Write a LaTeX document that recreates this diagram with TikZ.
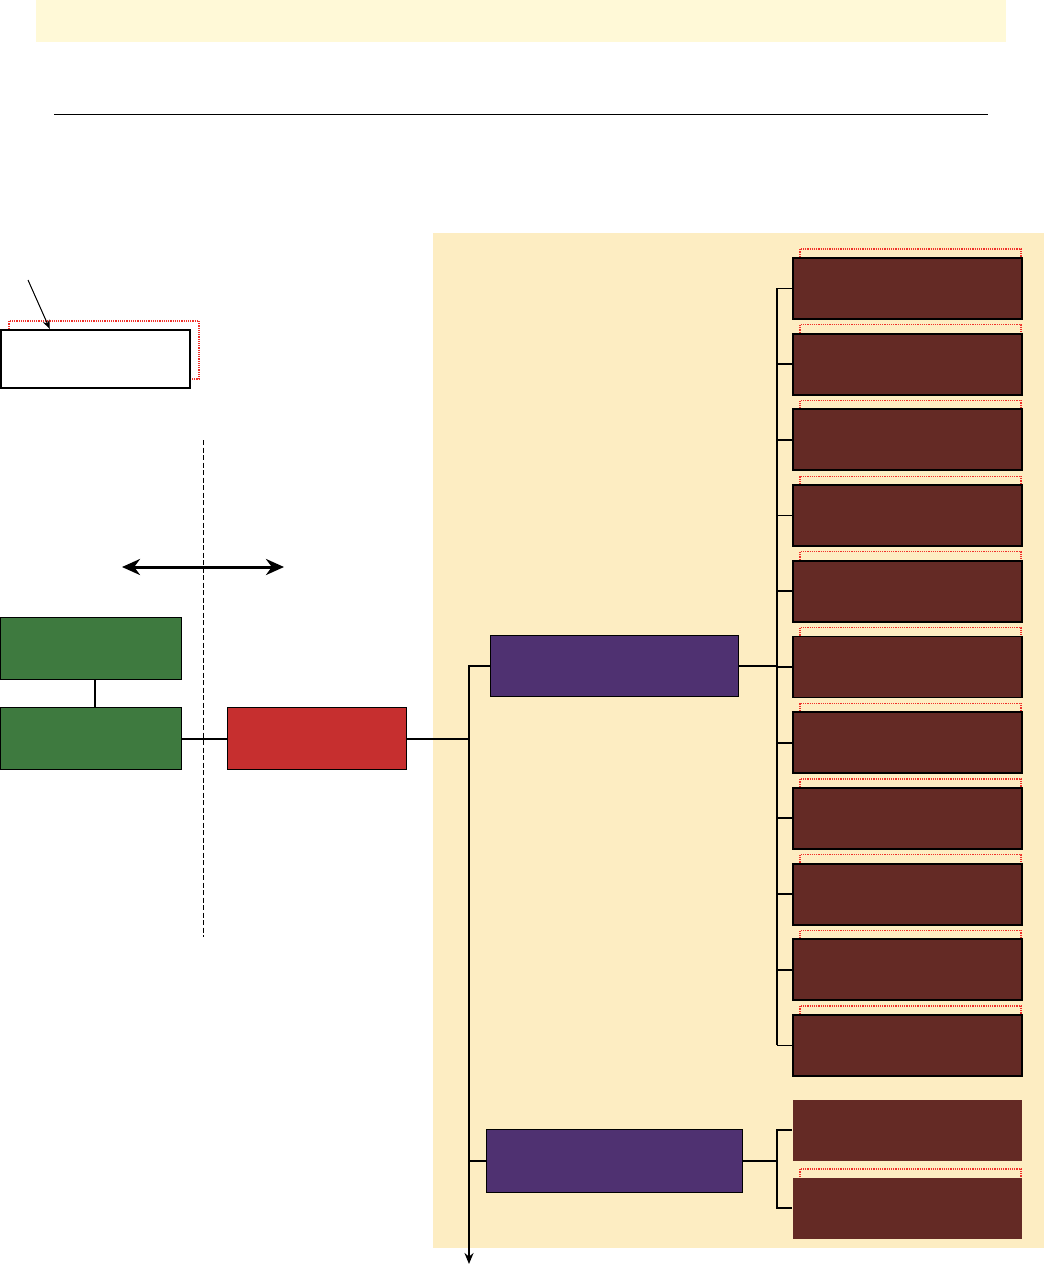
\documentclass[tikz,border=0pt]{standalone}
\usepackage{tikz}
\usetikzlibrary{arrows.meta}
\definecolor{bandyellow}{HTML}{FFF9D7}
\definecolor{paleorange}{HTML}{FDEDC2}
\definecolor{boxbrown}{HTML}{642A25}
\definecolor{boxpurple}{HTML}{4F3171}
\definecolor{boxgreen}{HTML}{3E7A3F}
\definecolor{boxred}{HTML}{C62F2F}
\definecolor{dotred}{HTML}{F0302A}
\tikzset{
  plainbox/.style  = {rectangle,anchor=north west,inner sep=0pt,line width=1.4pt},
  brownbox/.style  = {plainbox,draw=black,line width=1.9pt,fill=boxbrown,minimum width=229pt,minimum height=61pt},
  brownflat/.style = {plainbox,fill=boxbrown,minimum width=229pt,minimum height=61pt},
  purplebox/.style = {plainbox,draw=black,fill=boxpurple,minimum height=61pt},
  greenbox/.style  = {plainbox,draw=black,fill=boxgreen,minimum width=181pt,minimum height=62pt},
  redbox/.style    = {plainbox,draw=black,fill=boxred,minimum width=179pt,minimum height=62pt},
  legendbox/.style = {plainbox,draw=black,line width=1.8pt,fill=white,minimum width=189pt,minimum height=58pt},
  shadowline/.style= {dotred,densely dotted,line width=1.2pt},
  linkline/.style  = {black,line width=1.8pt},
  dimarr/.style    = {{Stealth[length=18pt,width=16pt]}-{Stealth[length=18pt,width=16pt]},line width=3pt},
  tailarr/.style   = {-{Stealth[length=11pt,width=9pt]},line width=1.8pt},
  notearr/.style   = {-{Stealth[length=9pt,width=7pt]},line width=1pt}
}

\begin{document}
\begin{tikzpicture}[x=1pt,y=-1pt]
  \useasboundingbox (0,0) rectangle (1044,1266);
  % backgrounds
  \fill[bandyellow] (36,0) rectangle (1006,42);
  \draw[line width=0.9pt] (54,114) -- (988,114);
  \fill[paleorange] (433,233) rectangle (1044,1248);

  % legend
  \draw[shadowline] (9,329) |- (199,321) |- (190,379);
  \node[legendbox] (legend) at (0,329) {};
  \coordinate (notetail) at (28,280);
  \draw[notearr] (notetail) -- ([xshift=-141pt]legend.north east);

  % boundary
  \coordinate (bndtop) at (203,440);
  \coordinate (bndbot) at (203,937);
  \draw[dash pattern=on 5pt off 2.5pt,line width=0.8pt] (bndtop) -- (bndbot);
  \coordinate (dimL) at (122,567);
  \coordinate (dimR) at (284,567);
  \draw[dimarr] (dimL) -- (dimR);

  % left side
  \node[greenbox] (g1) at (0,617) {};
  \node[greenbox] (g2) at (0,707) {};
  \node[redbox] (hub) at (227,707) {};
  \draw[linkline] (g1.south -| 95,0) -- (g2.north -| 95,0);
  \draw[linkline] (g2.east) -- (hub.west);

  % middle
  \node[purplebox,minimum width=248pt] (p1) at (490,635) {};
  \node[purplebox,minimum width=256pt,minimum height=63pt] (p2) at (486,1129) {};
  \coordinate (tail) at (469,1264);
  \draw[tailarr] (p1.west) -| (tail);
  \draw[linkline] (hub.east) -- (hub.east -| tail);
  \draw[linkline] (p2.west) -- (p2.west -| tail);

  % right column, upper group
  \coordinate (busA) at (777,665);
  \foreach \i in {1,...,11}{
    \pgfmathsetmacro{\ytop}{257+75.7*(\i-1)}
    \draw[shadowline] (800,\ytop) |- (1021,\ytop-8) -- (1021,\ytop);
    \node[brownbox] (b\i) at (792,\ytop) {};
    \draw[linkline] (b\i.west) -- (b\i.west -| busA);
  }
  \draw[linkline] (b1.west -| busA) -- (b11.west -| busA);
  \draw[linkline] (p1.east) -- (p1.east -| busA);

  % right column, lower group
  \coordinate (busB) at (777,1160);
  \draw[shadowline] (800,1177) |- (1021,1169) -- (1021,1177);
  \node[brownflat] (c1) at (792,1099) {};
  \node[brownflat] (c2) at (792,1177) {};
  \draw[linkline] (c1.west) -- (c1.west -| busB) -- (c2.west -| busB) -- (c2.west);
  \draw[linkline] (p2.east) -- (p2.east -| busB);
\end{tikzpicture}
\end{document}
